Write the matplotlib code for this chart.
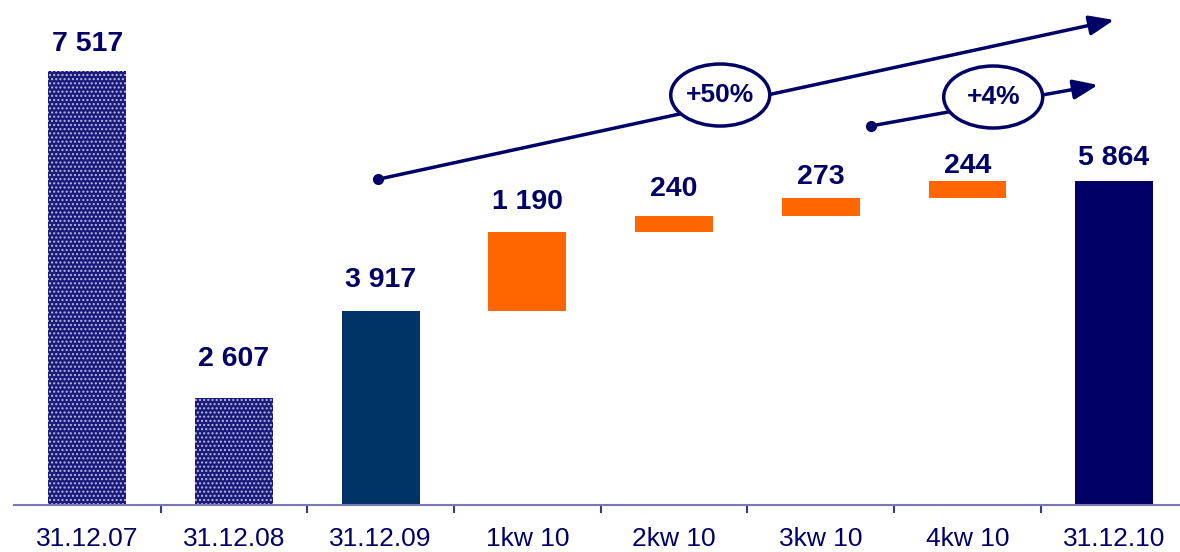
import matplotlib
matplotlib.use("Agg")
import matplotlib.pyplot as plt
from matplotlib.patches import Ellipse
import numpy as np

plt.rcParams['font.family'] = ['Liberation Sans', 'DejaVu Sans']
plt.rcParams['hatch.linewidth'] = 1.0

categories = ["31.12.07", "31.12.08", "31.12.09", "1kw 10", "2kw 10", "3kw 10", "4kw 10", "31.12.10"]
totals = [7517, 2607, 3917]
increments = [1190, 240, 273, 244]
final_total = 5864
labels = ["7 517", "2 607", "3 917", "1 190", "240", "273", "244", "5 864"]

NAVY = "#000066"
ORANGE = "#FF6600"
DARKBLUE = "#003366"
YMIN = 1000

fig = plt.figure(figsize=(11.8, 5.52), dpi=100)
ax = fig.add_axes([14/1180, 47/552, (1187.4-14)/1180, 505/552])
x = np.arange(len(categories))
w = 0.53

# hatched history bars
for i in range(2):
    ax.bar(x[i], totals[i] - YMIN, bottom=YMIN, width=w, color="#1a1a7a",
           edgecolor="#b8b8e0", hatch="....", linewidth=0, zorder=2)
ax.bar(x[2], totals[2] - YMIN, bottom=YMIN, width=w, color=DARKBLUE, linewidth=0, zorder=2)

# waterfall increments
bottoms = totals[2] + np.concatenate([[0], np.cumsum(increments)[:-1]])
ax.bar(x[3:7], increments, bottom=bottoms, width=w, color=ORANGE, linewidth=0, zorder=2)
ax.bar(x[7], final_total - YMIN, bottom=YMIN, width=w, color=NAVY, linewidth=0, zorder=2)

tops = list(totals) + list(bottoms + np.array(increments)) + [final_total]
offsets_px = [27, 39, 31, 30, 27, 21, 15, 23]
for xi, top, lab, off in zip(x, tops, labels, offsets_px):
    ax.annotate(lab, (xi, top), xytext=(0, off * 0.72), textcoords="offset points",
                ha="center", va="center", fontsize=20.5, fontweight="bold", color=NAVY)

ax.set_xlim(-0.5, len(categories) - 0.5)
ax.set_ylim(YMIN, 1000 + 505 * 15.03)
for s in ["top", "right", "left"]:
    ax.spines[s].set_visible(False)
ax.spines["bottom"].set_color("#7878b4")
ax.spines["bottom"].set_linewidth(1.5)
ax.set_yticks([])
ax.set_xticks(x)
ax.set_xticklabels(categories, fontsize=19, color=NAVY)
ax.tick_params(axis="x", which="major", length=0, pad=16)
ax.set_xticks(x[:-1] + 0.5, minor=True)
ax.tick_params(axis="x", which="minor", length=6, width=1.5, color="#3a3a80", direction="out")

# growth arrows
arrow_kw = dict(arrowstyle="-|>,head_length=1.5,head_width=0.6", lw=2.5, color=NAVY,
                shrinkA=0, shrinkB=0)
ax.annotate("", xy=(7.0, 8290), xytext=(1.98, 5895), arrowprops=arrow_kw, zorder=3,
            annotation_clip=False)
ax.plot([1.98], [5895], "o", color=NAVY, ms=7, zorder=3)
ax.annotate("", xy=(6.89, 7313), xytext=(5.34, 6696), arrowprops=arrow_kw, zorder=3)
ax.plot([5.34], [6696], "o", color=NAVY, ms=7, zorder=3)

for cx, cy, txt in [(4.315, 7162, "+50%"), (6.176, 7132, "+4%")]:
    ax.add_patch(Ellipse((cx, cy), 0.675, 932, facecolor="white", edgecolor=NAVY,
                         lw=2.5, zorder=4))
    ax.text(cx, cy, txt, ha="center", va="center", fontsize=19, fontweight="bold",
            color=NAVY, zorder=5)

fig.savefig("out.png", dpi=100)
